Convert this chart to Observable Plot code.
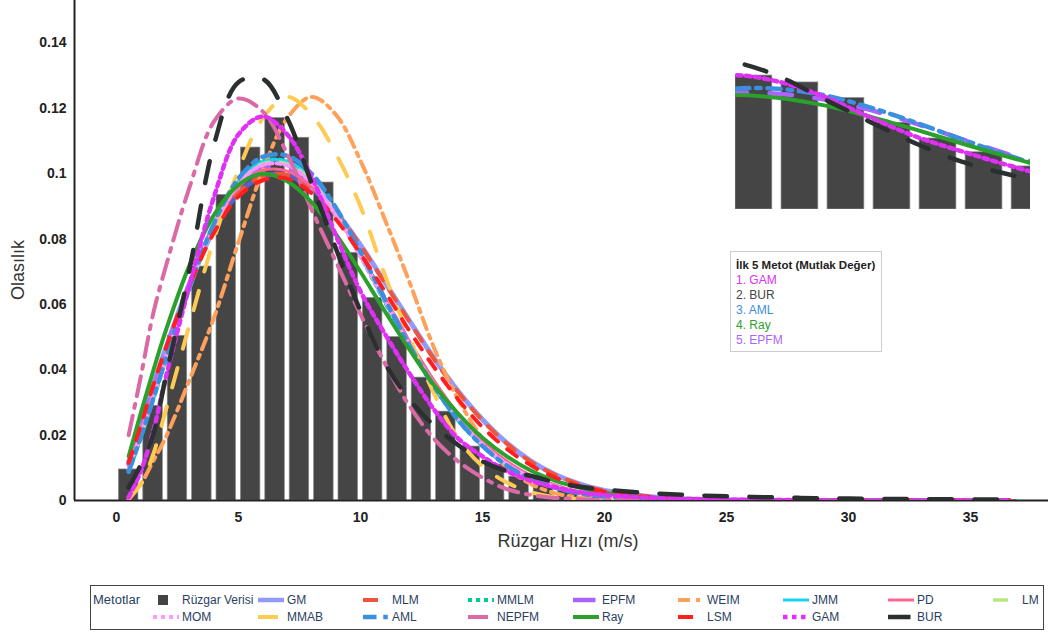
<!DOCTYPE html>
<html><head><meta charset="utf-8">
<script src="https://cdn.jsdelivr.net/npm/d3@7"></script>
<script src="https://cdn.jsdelivr.net/npm/@observablehq/plot@0.6"></script>
<style>
body{margin:0;background:#fff;font-family:"Liberation Sans",Arial,sans-serif;}
#wrap{position:relative;width:1050px;height:634px;overflow:hidden;background:#fff;}
#main{position:absolute;left:0;top:0;}
#inset{position:absolute;left:735px;top:57px;width:295px;height:152px;overflow:hidden;}
.axt{position:absolute;color:#333;font-size:18px;white-space:nowrap;}
#legend{position:absolute;left:90px;top:585px;width:954px;height:45px;border:1px solid #444;box-sizing:border-box;}
.lg{position:absolute;height:14px;font-size:12px;color:#2a3f5f;white-space:nowrap;}
.lg svg{position:absolute;left:0;top:1px;}
.lg span{position:absolute;left:29px;top:0;line-height:14px;}
#top5{position:absolute;left:730px;top:251px;width:152px;height:101px;border:1px solid #ccc;box-sizing:border-box;background:#fff;font-size:12px;}
#top5 div{position:absolute;left:5px;white-space:nowrap;line-height:14px;}
</style></head><body><div id="wrap"><div id="main"></div><div id="inset"></div><div id="legend"></div><div id="top5"></div></div>
<script>
// ---- data ----
const binCenters = [0.5,1.5,2.5,3.5,4.5,5.5,6.5,7.5,8.5,9.5,10.5,11.5,12.5,13.5,14.5,15.5,16.5,17.5,18.5,19.5,20.5,21.5,22.5,23.5,24.5,25.5,26.5,27.5,28.5,29.5,30.5,31.5,32.5,33.5,34.5,35.5,36.5];
const binProb = [0.0095,0.029,0.0504,0.0716,0.0935,0.108,0.117,0.111,0.0973,0.0758,0.062,0.050,0.0376,0.0272,0.0165,0.011,0.0073,0.0049,0.0030,0.0022,0.0015,0.0012,0.0009,0.0007,0.0006,0.0005,0.0004,0.0003,0.0003,0.0002,0.0002,0.0002,0.0001,0.0001,0.0001,0.0001,0.0001];

const curveX = [0.5,1,1.5,2,3,4,5,6,7,8,9,10,11,12,13,14,15,16,17,18,19,20,22,24,26,28,30,33,36.6];
const gm    = [0.0118,0.0232,0.0350,0.0462,0.0665,0.0830,0.0940,0.0992,0.0995,0.0955,0.0882,0.0782,0.0668,0.0551,0.0437,0.0335,0.0248,0.0176,0.0120,0.0079,0.0050,0.0031,0.0011,0.0003,0.0001,0,0,0,0];
const mlm   = [0.0116,0.0230,0.0347,0.0459,0.0663,0.0829,0.0940,0.0993,0.0996,0.0956,0.0881,0.0780,0.0665,0.0548,0.0434,0.0332,0.0245,0.0174,0.0118,0.0078,0.0049,0.0030,0.0011,0.0003,0.0001,0,0,0,0];
const mmlm  = [0.0088,0.0193,0.0308,0.0424,0.0650,0.0840,0.0975,0.1038,0.1037,0.0982,0.0879,0.0748,0.0607,0.0471,0.0349,0.0246,0.0167,0.0108,0.0067,0.0040,0.0023,0.0012,0.0003,0.0001,0,0,0,0,0];
const epfm  = [0.0110,0.0225,0.0340,0.0452,0.0665,0.0842,0.0965,0.1018,0.1012,0.0962,0.0872,0.0752,0.0618,0.0485,0.0363,0.0259,0.0177,0.0116,0.0073,0.0044,0.0026,0.0014,0.0004,0.0001,0,0,0,0,0];
const weim  = [0.0003,0.005,0.012,0.019,0.037,0.056,0.079,0.101,0.117,0.1235,0.118,0.104,0.086,0.067,0.047,0.031,0.019,0.010,0.005,0.0022,0.0009,0.0003,0.0001,0,0,0,0,0,0];
const jmm   = [0.0090,0.0195,0.0310,0.0425,0.0648,0.0838,0.0972,0.1036,0.1038,0.0985,0.0883,0.0752,0.0610,0.0473,0.0350,0.0247,0.0168,0.0108,0.0067,0.0040,0.0023,0.0013,0.0003,0.0001,0,0,0,0,0];
const pd    = [0.0105,0.0215,0.0330,0.0443,0.0658,0.0835,0.0958,0.1010,0.1008,0.0960,0.0870,0.0752,0.0620,0.0489,0.0369,0.0265,0.0182,0.0120,0.0076,0.0046,0.0027,0.0015,0.0004,0.0001,0,0,0,0,0];
const lm    = [0.0092,0.0198,0.0312,0.0428,0.0652,0.0838,0.0970,0.1030,0.1030,0.0978,0.0878,0.0750,0.0611,0.0475,0.0353,0.0250,0.0170,0.0110,0.0068,0.0041,0.0024,0.0013,0.0004,0.0001,0,0,0,0,0];
const mom   = [0.0095,0.0202,0.0318,0.0433,0.0655,0.0838,0.0968,0.1027,0.1025,0.0972,0.0874,0.0748,0.0611,0.0477,0.0356,0.0253,0.0172,0.0112,0.0070,0.0042,0.0024,0.0013,0.0004,0.0001,0,0,0,0,0];
const mmab  = [0.001,0.005,0.014,0.027,0.054,0.080,0.101,0.117,0.1235,0.118,0.106,0.090,0.069,0.050,0.033,0.019,0.0105,0.0055,0.0025,0.001,0.0004,0.0001,0,0,0,0,0,0,0];
const aml   = [0.0088,0.0195,0.0310,0.0430,0.0655,0.0848,0.0985,0.1052,0.1055,0.1000,0.0895,0.0761,0.0616,0.0476,0.0351,0.0247,0.0167,0.0107,0.0066,0.0039,0.0022,0.0012,0.0003,0.0001,0,0,0,0,0];
const nepfm = [0.020,0.038,0.057,0.071,0.096,0.116,0.123,0.119,0.106,0.089,0.073,0.057,0.042,0.029,0.019,0.012,0.007,0.0035,0.0017,0.0008,0.0004,0.0002,0.0001,0,0,0,0,0,0];
const ray   = [0.0135,0.0268,0.0395,0.0515,0.0721,0.0874,0.0966,0.1000,0.0977,0.0912,0.0814,0.0700,0.0579,0.0463,0.0355,0.0266,0.0192,0.0135,0.0091,0.0060,0.0039,0.0024,0.0008,0.0003,0.0001,0,0,0,0];
const lsm   = [0.0115,0.0230,0.0350,0.0460,0.0660,0.0820,0.0930,0.0980,0.0985,0.0940,0.0860,0.0755,0.0640,0.0520,0.0410,0.0310,0.0225,0.0158,0.0107,0.0070,0.0044,0.0027,0.0009,0.0003,0.0001,0,0,0,0];
const gam   = [0.001,0.009,0.021,0.037,0.066,0.093,0.112,0.1175,0.112,0.099,0.081,0.064,0.051,0.039,0.028,0.019,0.0135,0.009,0.006,0.004,0.0025,0.0017,0.0008,0.0004,0.0002,0.0001,0,0,0];
const bur   = [0.004,0.011,0.020,0.037,0.071,0.109,0.128,0.129,0.117,0.097,0.077,0.058,0.042,0.031,0.023,0.017,0.012,0.009,0.0075,0.0055,0.0042,0.0033,0.0022,0.0015,0.0011,0.0008,0.0006,0.0004,0.0003];

const methodNames = ["GM","MLM","MMLM","EPFM","WEIM","JMM","PD","LM","MOM","MMAB","AML","NEPFM","Ray","LSM","GAM","BUR"];
const methodValues = [gm,mlm,mmlm,epfm,weim,jmm,pd,lm,mom,mmab,aml,nepfm,ray,lsm,gam,bur];
const top5 = ["GAM","BUR","AML","Ray","EPFM"];
const xTicks = [0,5,10,15,20,25,30,35];
const yTicks = [0,0.02,0.04,0.06,0.08,0.1,0.12,0.14];
const barLabel = "Rüzgar Verisi";
const legendTitle = "Metotlar";
const top5Title = "İlk 5 Metot (Mutlak Değer)";
const xTitle = "Rüzgar Hızı (m/s)";
const yTitle = "Olasılık";

// ---- styles ----
const sty = {
  GM:{c:"#636efa",w:5,d:"solid",o:0.7}, MLM:{c:"#EF553B",w:4,d:"dash"}, MMLM:{c:"#00cc96",w:4,d:"dot"},
  EPFM:{c:"#ab63fa",w:4.5,d:"longdash"}, WEIM:{c:"#FFA15A",w:4,d:"dashdot"}, JMM:{c:"#19d3f3",w:3,d:"solid"},
  PD:{c:"#FF6692",w:3,d:"solid"}, LM:{c:"#B6E880",w:3.5,d:"dash"}, MOM:{c:"#FF97FF",w:4,d:"dot"},
  MMAB:{c:"#FECB52",w:4,d:"longdash"}, AML:{c:"#3b8ee0",w:4.5,d:"dashdot"}, NEPFM:{c:"#d96aa5",w:4,d:"longdashdot"},
  Ray:{c:"#2ca02c",w:4,d:"solid"}, LSM:{c:"#ff1f1f",w:4,d:"dash"}, GAM:{c:"#e030f5",w:4.5,d:"dot"},
  BUR:{c:"#2a3030",w:4.5,d:"longdash"}
};
const top5Colors = {GAM:"#e030f5",BUR:"#444",AML:"#3b8ee0",Ray:"#2ca02c",EPFM:"#ab63fa"};
function dashArray(kind,w){const d=Math.max(w,3);
  switch(kind){case "dot":return `${d},${d}`;case "dash":return `${3*d},${3*d}`;case "longdash":return `${5*d},${5*d}`;
  case "dashdot":return `${3*d},${1.5*d},${d},${1.5*d}`;case "longdashdot":return `${5*d},${2*d},${d},${2*d}`;default:return null;}}

const bars = binCenters.map((x,i)=>({x,p:binProb[i]}));
const series = methodNames.map((n,k)=>({name:n,rows:curveX.map((x,i)=>({x,y:methodValues[k][i]}))}));
const lineMark = s => {const st=sty[s.name];return Plot.line(s.rows,{x:"x",y:"y",curve:"catmull-rom",stroke:st.c,strokeWidth:st.w,
  strokeOpacity:st.o??1,strokeDasharray:dashArray(st.d,st.w)??undefined,clip:true});};

const xDom=[-1.72,38.2];
const main = Plot.plot({
  width:1050,height:560,marginLeft:74,marginRight:2,marginTop:0,marginBottom:60,
  x:{domain:xDom},y:{domain:[0,0.153]},
  style:{fontFamily:"Liberation Sans, Arial, sans-serif",fontSize:"14px",color:"#222",background:"transparent"},
  marks:[
    Plot.rectY(bars,{x1:d=>d.x-0.4,x2:d=>d.x+0.4,y:"p",fill:"#454545",stroke:"#8c8c8c",strokeWidth:0.7}),
    Plot.ruleY([0],{stroke:"#222",strokeWidth:2}),
    Plot.ruleX([xDom[0]],{stroke:"#222",strokeWidth:2}),
    ...series.map(lineMark),
    Plot.axisX({ticks:xTicks,tickSize:0,tickPadding:12,fontWeight:"bold",label:null}),
    Plot.axisY({ticks:yTicks,tickSize:0,tickPadding:8,fontWeight:"bold",label:null,tickFormat:d=>String(+d.toFixed(2))})
  ]
});
document.getElementById("main").appendChild(main);

const inset = Plot.plot({
  width:295,height:152,marginLeft:0,marginRight:0,marginTop:0,marginBottom:0,
  x:{domain:[6.1,12.51],axis:null},y:{domain:[0,0.1328],axis:null},
  style:{background:"transparent"},
  marks:[
    Plot.rectY(bars,{x1:d=>d.x-0.4,x2:d=>d.x+0.4,y:"p",fill:"#454545",stroke:"#8c8c8c",strokeWidth:0.7,clip:true}),
    ...series.filter(s=>top5.includes(s.name)).map(lineMark)
  ]
});
document.getElementById("inset").appendChild(inset);

// axis titles
const wrap=document.getElementById("wrap");
const xt=document.createElement("div");xt.className="axt";xt.textContent=xTitle;xt.style.left="568px";xt.style.top="531px";xt.style.transform="translateX(-50%)";wrap.appendChild(xt);
const yt=document.createElement("div");yt.className="axt";yt.textContent=yTitle;yt.style.left="18px";yt.style.top="270px";yt.style.transform="translate(-50%,-50%) rotate(-90deg)";wrap.appendChild(yt);

// legend
const leg=document.getElementById("legend");
const lt=document.createElement("div");lt.className="lg";lt.style.left="2px";lt.style.top="6px";lt.style.fontSize="13px";lt.textContent=legendTitle;leg.appendChild(lt);
const items=[{name:barLabel,bar:true},...methodNames.map(n=>({name:n}))];
items.forEach((it,i)=>{
  const row=Math.floor(i/9),col=i%9;
  const d=document.createElement("div");d.className="lg";
  d.style.left=(62+col*105)+"px";d.style.top=(7+row*17)+"px";
  let svg;
  if(it.bar){svg=`<svg width="26" height="12"><rect x="5" y="1" width="10" height="10" fill="#444"/></svg>`;}
  else{const st=sty[it.name];const lw=Math.min(st.w,4.5);const da=dashArray(st.d,st.d==="dash"?5:lw);
    svg=`<svg width="26" height="12"><line x1="0" x2="26" y1="6" y2="6" stroke="${st.c}" stroke-width="${lw}" stroke-opacity="${st.o??1}" ${da?`stroke-dasharray="${da}"`:""}/></svg>`;}
  d.innerHTML=svg+`<span>${it.name}</span>`;leg.appendChild(d);
});

// top5 box
const tb=document.getElementById("top5");
const t0=document.createElement("div");t0.style.top="6px";t0.style.fontWeight="bold";t0.style.fontSize="11.5px";t0.style.color="#222";t0.textContent=top5Title;tb.appendChild(t0);
top5.forEach((n,i)=>{const e=document.createElement("div");e.style.top=(21+i*15)+"px";e.style.color=top5Colors[n];e.textContent=`${i+1}. ${n}`;tb.appendChild(e);});
</script></body></html>
